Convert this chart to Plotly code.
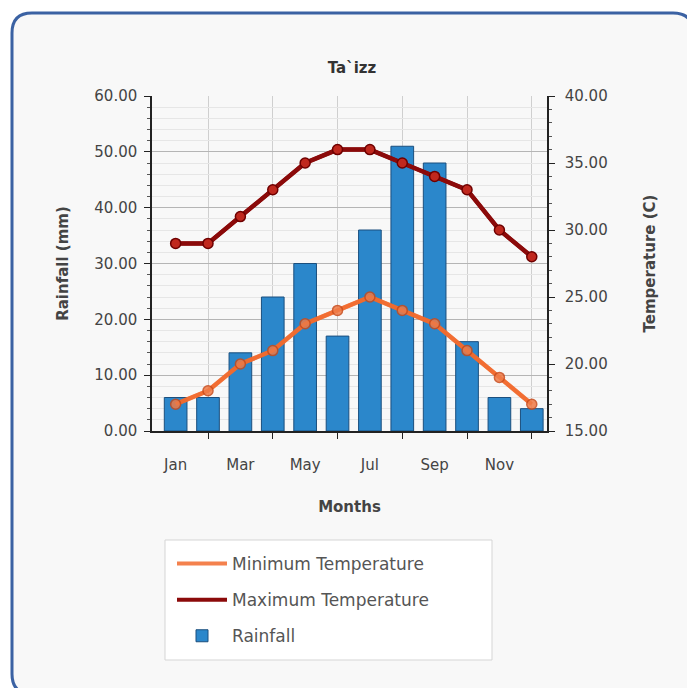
import plotly.graph_objects as go

months = ["Jan", "Feb", "Mar", "Apr", "May", "Jun", "Jul", "Aug", "Sep", "Oct", "Nov", "Dec"]
rainfall = [6, 6, 14, 24, 30, 17, 36, 51, 48, 16, 6, 4]
max_temp = [29, 29, 31, 33, 35, 36, 36, 35, 34, 33, 30, 28]
min_temp = [17, 18, 20, 21, 23, 24, 25, 24, 23, 21, 19, 17]

W, H = 687, 688
L, R, T, B = 152, 547, 96, 431  # plot area in pixels

x = list(range(len(months)))


def px(xp):
    return (xp - L) / (R - L)


def py(yp):
    return (B - yp) / (B - T)


fig = go.Figure()

fig.add_trace(go.Scatter(
    x=x, y=min_temp, yaxis="y2", mode="lines", name="Minimum Temperature",
    line=dict(color="#f26b2e", width=4), opacity=0.85,
    legendgroup="a", legendrank=1,
))
fig.add_trace(go.Scatter(
    x=x, y=max_temp, yaxis="y2", mode="lines", name="Maximum Temperature",
    line=dict(color="#8b0a0a", width=4),
    legendgroup="b", legendrank=2,
))
fig.add_trace(go.Bar(
    x=x, y=rainfall, name="Rainfall", width=0.7,
    marker=dict(color="#2b87cb", line=dict(color="#1b4f7e", width=1)),
    legendgroup="c", legendrank=3,
))
fig.add_trace(go.Scatter(
    x=x, y=min_temp, yaxis="y2", mode="lines+markers", showlegend=False,
    line=dict(color="#f26b2e", width=4.5), opacity=0.85,
    marker=dict(size=10, color="#f07a45", line=dict(color="#c84a1a", width=1.5)),
))
fig.add_trace(go.Scatter(
    x=x, y=max_temp, yaxis="y2", mode="lines+markers", showlegend=False,
    line=dict(color="#8b0a0a", width=4.5),
    marker=dict(size=10, color="#c0281e", line=dict(color="#6e0000", width=1.5)),
))

# card background with rounded border
x0, x1, y0, y1, r = 12, 693, 13, 694, 20
path = (
    f"M {px(x0)},{py(y0 + r)} "
    f"Q {px(x0)},{py(y0)} {px(x0 + r)},{py(y0)} "
    f"L {px(x1 - r)},{py(y0)} "
    f"Q {px(x1)},{py(y0)} {px(x1)},{py(y0 + r)} "
    f"L {px(x1)},{py(y1 - r)} "
    f"Q {px(x1)},{py(y1)} {px(x1 - r)},{py(y1)} "
    f"L {px(x0 + r)},{py(y1)} "
    f"Q {px(x0)},{py(y1)} {px(x0)},{py(y1 - r)} Z"
)

font_fam = "'DejaVu Sans', Verdana, sans-serif"

fig.update_layout(
    width=W, height=H,
    margin=dict(l=L, r=W - R, t=T, b=H - B),
    paper_bgcolor="white",
    plot_bgcolor="white",
    font=dict(family=font_fam, color="#333333", size=14),
    title=dict(text="<b>Ta`izz</b>", x=352 / W, xanchor="center",
               y=1 - 68 / H, yanchor="middle", font=dict(size=15, color="#333333")),
    showlegend=True,
    bargap=0.3,
    shapes=[
        dict(type="path", path=path, xref="paper", yref="paper",
             fillcolor="#f8f8f8", line=dict(color="#3b62a3", width=3), layer="below"),
        dict(type="rect", xref="paper", yref="paper",
             x0=px(165), x1=px(492), y0=py(540), y1=py(660),
             fillcolor="white", line=dict(color="#d5d5d5", width=1), layer="below"),
    ],
    xaxis=dict(
        range=[-0.73, 11.47],
        tickmode="array", tickvals=x[0::2], ticktext=months[0::2],
        ticks="", showgrid=False, zeroline=False,
        showline=True, linecolor="#222222", linewidth=1.5,
        ticklabelstandoff=19,
        tickfont=dict(size=15, color="#444444"),
        minor=dict(tickmode="array", tickvals=x[1::2], ticks="outside", ticklen=6,
                   tickcolor="#222222", showgrid=True, gridcolor="#cfcfcf", gridwidth=1),
        title=dict(text="<b>Months</b>", font=dict(size=15, color="#444444"), standoff=29),
    ),
    yaxis=dict(
        range=[0, 60], dtick=10, tickformat=".2f",
        showline=True, linecolor="#222222", linewidth=1.5,
        ticks="outside", ticklen=6, tickcolor="#222222",
        showgrid=True, gridcolor="#b5b5b5", gridwidth=1, zeroline=False,
        minor=dict(dtick=2, ticks="outside", ticklen=3, tickcolor="#555555",
                   showgrid=True, gridcolor="#e6e6e6"),
        ticklabelstandoff=4,
        tickfont=dict(size=15, color="#444444"),
        title=dict(text="<b>Rainfall (mm)</b>", font=dict(size=15, color="#444444"), standoff=22),
    ),
    yaxis2=dict(
        range=[15, 40], dtick=5, tickformat=".2f", overlaying="y", side="right",
        showline=True, linecolor="#222222", linewidth=1.5,
        ticks="outside", ticklen=6, tickcolor="#222222",
        showgrid=False, zeroline=False,
        minor=dict(dtick=1, ticks="outside", ticklen=3, tickcolor="#555555", showgrid=False),
        ticklabelstandoff=7,
        tickfont=dict(size=15, color="#444444"),
        title=dict(text="<b>Temperature (C)</b>", font=dict(size=15, color="#444444"), standoff=38),
    ),
    legend=dict(
        x=px(172), y=py(546), xanchor="left", yanchor="top",
        bgcolor="rgba(0,0,0,0)", borderwidth=0,
        font=dict(family="'DejaVu Sans', Verdana, sans-serif", size=17, color="#555555"),
        traceorder="grouped", tracegroupgap=11,
        itemwidth=50,
    ),
)

fig.write_html("out.html", config={"displayModeBar": False},
               post_script="document.body.style.margin='0';")
